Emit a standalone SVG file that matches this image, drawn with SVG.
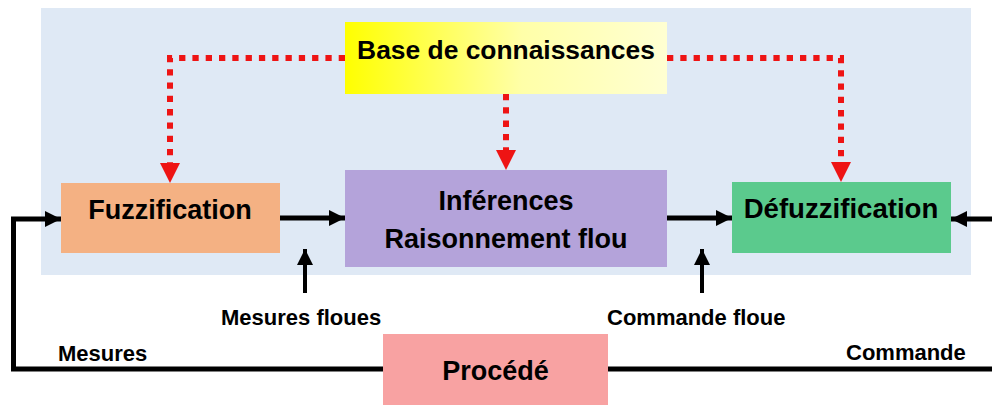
<svg xmlns="http://www.w3.org/2000/svg" width="992" height="405" viewBox="0 0 992 405">
<style>
.big{font-family:"Liberation Sans",Arial,sans-serif;font-weight:bold;font-size:27px;fill:#000;text-anchor:middle}
.small{font-family:"Liberation Sans",Arial,sans-serif;font-weight:bold;font-size:22px;fill:#000}
.dot{fill:none;stroke:#ee1414;stroke-width:6;stroke-dasharray:6.3 7}
.wire{fill:none;stroke:#000;stroke-width:5;stroke-linejoin:miter}
</style>
<defs>
<linearGradient id="yel" x1="0" y1="0" x2="1" y2="0">
<stop offset="0" stop-color="#ffff00"/>
<stop offset="0.55" stop-color="#ffffa8"/>
<stop offset="1" stop-color="#ffffd2"/>
</linearGradient>
<marker id="red" markerUnits="userSpaceOnUse" markerWidth="20" markerHeight="20" refX="0" refY="10" orient="auto" viewBox="0 0 20 20">
<path d="M0,0 L20,10 L0,20 z" fill="#ee1414"/>
</marker>
<marker id="blk" markerUnits="userSpaceOnUse" markerWidth="16" markerHeight="16" refX="16" refY="8" orient="auto" viewBox="0 0 16 16">
<path d="M0,0 L16,8 L0,16 z" fill="#000"/>
</marker>
</defs>
<rect x="0" y="0" width="992" height="405" fill="#ffffff"/>
<g id="background">
<rect x="41" y="8" width="930" height="267" fill="#dfe9f5"/>
</g>
<g id="base">
<rect x="345" y="22" width="322" height="72" fill="url(#yel)"/>
<text class="big" x="506" y="59" style="font-size:26.4px">Base de connaissances</text>
</g>
<g id="fuzzification">
<rect x="61" y="183" width="219" height="70" fill="#f4b183"/>
<text class="big" x="170" y="219">Fuzzification</text>
</g>
<g id="inferences">
<rect x="345" y="170" width="322" height="97" fill="#b4a3da"/>
<text class="big" x="506" y="210">Inférences</text>
<text class="big" x="506" y="248">Raisonnement flou</text>
</g>
<g id="defuzzification">
<rect x="732" y="182" width="219" height="71" fill="#5bca8d"/>
<text class="big" x="841" y="218" style="font-size:27.6px">Défuzzification</text>
</g>
<g id="procede">
<rect x="383" y="334" width="225" height="72" fill="#f8a2a2"/>
<text class="big" x="495.5" y="380">Procédé</text>
</g>
<g id="connectors">
<path class="dot" d="M345 58 H170 V163" marker-end="url(#red)"/>
<path class="dot" d="M506 94 V150" marker-end="url(#red)"/>
<path class="dot" d="M667 58 H841 V162" marker-end="url(#red)"/>
<path class="wire" d="M280 218 H345" marker-end="url(#blk)"/>
<path class="wire" d="M667 218 H732" marker-end="url(#blk)"/>
<path class="wire" d="M1000 219 H951" marker-end="url(#blk)"/>
<path class="wire" d="M383 369 H13.5 V219 H61" marker-end="url(#blk)"/>
<path class="wire" d="M608 369 H1000"/>
<path class="wire" style="stroke-width:4" d="M305 293 V249" marker-end="url(#blk)"/>
<path class="wire" style="stroke-width:4" d="M702 293 V249" marker-end="url(#blk)"/>
<text class="small" x="221" y="325">Mesures floues</text>
<text class="small" x="607" y="325">Commande floue</text>
<text class="small" x="58" y="361">Mesures</text>
<text class="small" x="846" y="360">Commande</text>
</g>
</svg>
